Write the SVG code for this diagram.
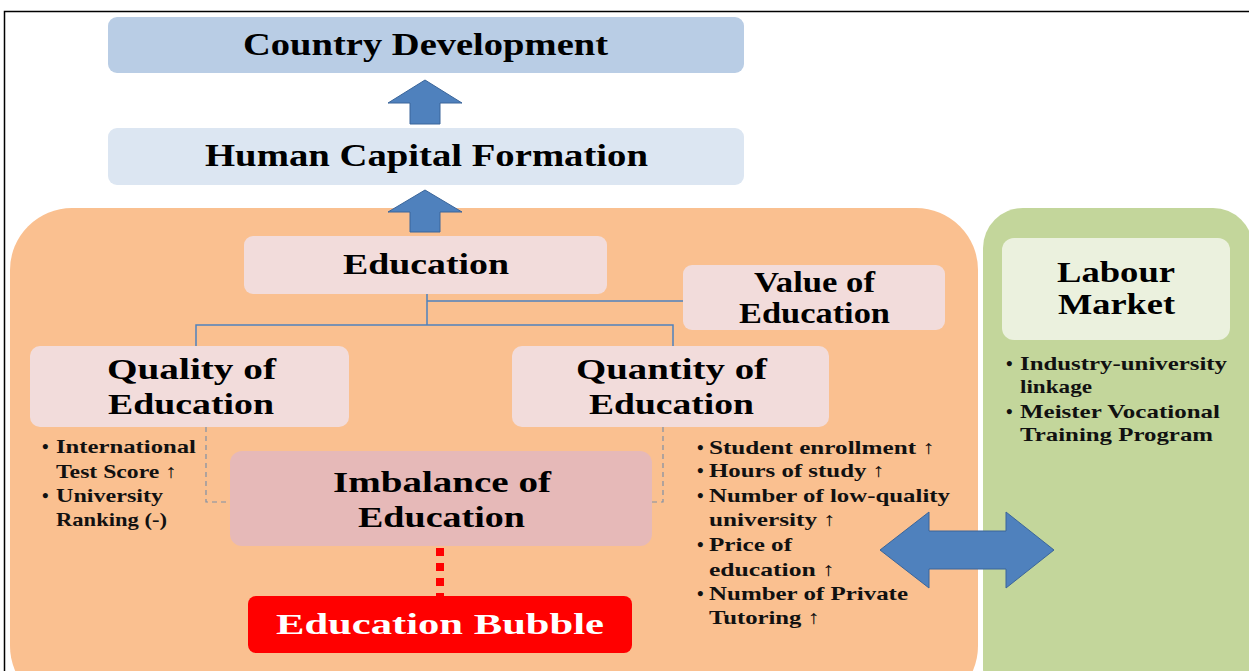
<svg xmlns="http://www.w3.org/2000/svg" width="1249" height="671" viewBox="0 0 1249 671">
<style>
.t{font-family:"Liberation Serif","Times New Roman",serif;font-weight:bold;fill:#000;text-anchor:middle}
.h{font-size:32px}
.s{font-size:30px}
.b{font-family:"Liberation Serif","Times New Roman",serif;font-weight:bold;font-size:19px;fill:#111}
.pink{fill:#f2dcdb}
.arr{fill:#4f81bd;stroke:#3a659a;stroke-width:1}
.ln{fill:none;stroke:#4f81bd;stroke-width:1.5}
.dash{fill:none;stroke:#7f8fa6;stroke-width:1.2;stroke-dasharray:5 4}
</style>
<rect x="0" y="0" width="1249" height="671" fill="#fff"/>
<rect x="4.5" y="11.5" width="1250" height="670" fill="none" stroke="#000" stroke-width="1.5"/>
<g id="orange-area"><rect x="10" y="208" width="968" height="500" rx="62" fill="#fac090"/></g>
<g id="green-area"><rect x="983" y="208" width="270" height="500" rx="40" fill="#c3d69b"/></g>
<g id="country-development"><rect x="108" y="17" width="636" height="56" rx="9" fill="#b9cde5"/><text class="t h" x="425.5" y="55" textLength="365" lengthAdjust="spacingAndGlyphs">Country Development</text></g>
<g id="human-capital"><rect x="108" y="128" width="636" height="57" rx="9" fill="#dce6f2"/><text class="t h" x="426.5" y="166" textLength="443" lengthAdjust="spacingAndGlyphs">Human Capital Formation</text></g>
<g id="education"><rect x="244" y="236" width="363" height="58" rx="9" class="pink"/><text class="t s" x="426" y="274" textLength="166" lengthAdjust="spacingAndGlyphs">Education</text></g>
<g id="value-of-education"><rect x="683" y="265" width="262" height="65" rx="9" class="pink"/><text class="t s" x="814.5" y="292" textLength="121" lengthAdjust="spacingAndGlyphs">Value of</text><text class="t s" x="814.5" y="323" textLength="151" lengthAdjust="spacingAndGlyphs">Education</text></g>
<g id="quality-of-education"><rect x="30" y="346" width="319" height="81" rx="10" class="pink"/><text class="t s" x="191.5" y="379" textLength="169" lengthAdjust="spacingAndGlyphs">Quality of</text><text class="t s" x="191" y="414" textLength="166" lengthAdjust="spacingAndGlyphs">Education</text></g>
<g id="quantity-of-education"><rect x="512" y="346" width="317" height="81" rx="10" class="pink"/><text class="t s" x="671.5" y="379" textLength="191" lengthAdjust="spacingAndGlyphs">Quantity of</text><text class="t s" x="671.5" y="414" textLength="165" lengthAdjust="spacingAndGlyphs">Education</text></g>
<g id="imbalance-of-education"><rect x="230" y="451" width="422" height="95" rx="12" fill="#e6b9b8"/><text class="t s" x="442" y="492" textLength="218" lengthAdjust="spacingAndGlyphs">Imbalance of</text><text class="t s" x="441.5" y="527" textLength="167" lengthAdjust="spacingAndGlyphs">Education</text></g>
<g id="education-bubble"><rect x="248" y="596" width="384" height="57" rx="8" fill="#ff0000"/><text class="t s" x="440" y="634" style="fill:#fff" textLength="328" lengthAdjust="spacingAndGlyphs">Education Bubble</text></g>
<g id="labour-market"><rect x="1002" y="238" width="228" height="102" rx="12" fill="#ebf1de"/><text class="t s" x="1116" y="282" textLength="118" lengthAdjust="spacingAndGlyphs">Labour</text><text class="t s" x="1116.5" y="314" textLength="117" lengthAdjust="spacingAndGlyphs">Market</text></g>
<g id="quality-bullets">
<text class="b" x="42" y="453">•</text><text class="b" x="56" y="453" textLength="140" lengthAdjust="spacingAndGlyphs">International</text>
<text class="b" x="56" y="478" textLength="121" lengthAdjust="spacingAndGlyphs">Test Score ↑</text>
<text class="b" x="42" y="502">•</text><text class="b" x="56" y="502" textLength="107" lengthAdjust="spacingAndGlyphs">University</text>
<text class="b" x="56" y="526" textLength="111" lengthAdjust="spacingAndGlyphs">Ranking (-)</text>
</g>
<g id="quantity-bullets">
<text class="b" x="697" y="454">•</text><text class="b" x="709" y="454" textLength="226" lengthAdjust="spacingAndGlyphs">Student enrollment ↑</text>
<text class="b" x="697" y="477">•</text><text class="b" x="709" y="477" textLength="176" lengthAdjust="spacingAndGlyphs">Hours of study ↑</text>
<text class="b" x="697" y="502">•</text><text class="b" x="709" y="502" textLength="241" lengthAdjust="spacingAndGlyphs">Number of low-quality</text>
<text class="b" x="709" y="526" textLength="127" lengthAdjust="spacingAndGlyphs">university ↑</text>
<text class="b" x="697" y="551">•</text><text class="b" x="709" y="551" textLength="83" lengthAdjust="spacingAndGlyphs">Price of</text>
<text class="b" x="709" y="576" textLength="126" lengthAdjust="spacingAndGlyphs">education ↑</text>
<text class="b" x="697" y="600">•</text><text class="b" x="709" y="600" textLength="199" lengthAdjust="spacingAndGlyphs">Number of Private</text>
<text class="b" x="709" y="624" textLength="111" lengthAdjust="spacingAndGlyphs">Tutoring ↑</text>
</g>
<g id="labour-bullets">
<text class="b" x="1006" y="370">•</text><text class="b" x="1020" y="370" textLength="207" lengthAdjust="spacingAndGlyphs">Industry-university</text>
<text class="b" x="1020" y="393" textLength="72" lengthAdjust="spacingAndGlyphs">linkage</text>
<text class="b" x="1006" y="418">•</text><text class="b" x="1020" y="418" textLength="200" lengthAdjust="spacingAndGlyphs">Meister Vocational</text>
<text class="b" x="1020" y="441" textLength="193" lengthAdjust="spacingAndGlyphs">Training Program</text>
</g>
<g id="connectors">
<polygon class="arr" points="425,80 462,103 440,103 440,124 410,124 410,103 388,103"/>
<polygon class="arr" points="425,190 462,212 440,212 440,232 410,232 410,212 388,212"/>
<path class="ln" d="M427,294 V325 M427,301 H683 M196,346 V325 H673 V346"/>
<path class="dash" d="M206,427 V502 H230 M663,427 V502 H652"/>
<path d="M440,548 V596" stroke="#ff0000" stroke-width="8" stroke-dasharray="8 7" fill="none"/>
<polygon class="arr" points="880,550 929,512 929,531 1006,531 1006,512 1054,550 1006,588 1006,569 929,569 929,588"/>
</g>
</svg>
